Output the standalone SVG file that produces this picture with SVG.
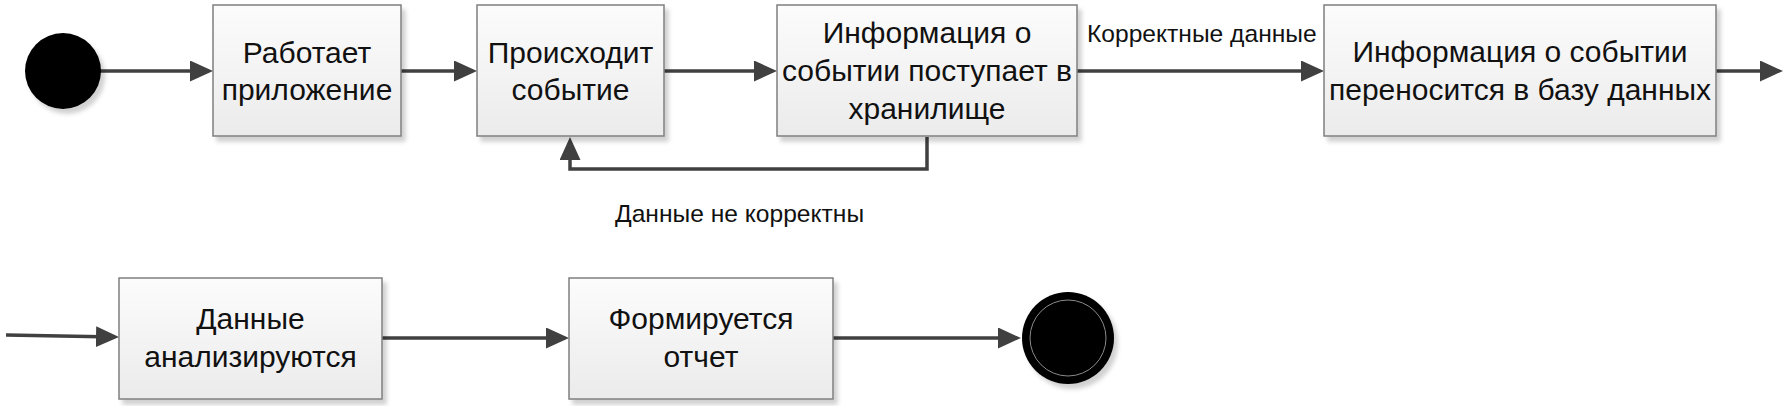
<svg xmlns="http://www.w3.org/2000/svg" width="1789" height="406" viewBox="0 0 1789 406">
<style>
.box{fill:url(#boxGrad);stroke:#7f7f7f;stroke-width:1.5;filter:url(#shadow)}
.t{font-family:"Liberation Sans",Arial,sans-serif;font-size:30px;fill:#111;text-anchor:middle}
.lbl{font-family:"Liberation Sans",Arial,sans-serif;font-size:24.6px;fill:#111}
.conn{fill:none;stroke:#404040;stroke-width:3.5;marker-end:url(#arr)}
</style>
<defs>
<linearGradient id="boxGrad" x1="0" y1="0" x2="0" y2="1">
<stop offset="0" stop-color="#fcfcfc"/>
<stop offset="1" stop-color="#ebebeb"/>
</linearGradient>
<filter id="shadow" x="-10%" y="-10%" width="130%" height="130%">
<feDropShadow dx="4" dy="5" stdDeviation="2" flood-color="#000" flood-opacity="0.18"/>
</filter>
<marker id="arr" viewBox="0 0 23 21" refX="19" refY="10.5" markerWidth="23" markerHeight="21" markerUnits="userSpaceOnUse" orient="auto">
<path d="M0,0 L23,10.5 L0,21 z" fill="#404040"/>
</marker>
</defs>
<rect width="1789" height="406" fill="#fff"/>

<g id="connectors">
<path class="conn" d="M100,71 H209"/>
<path class="conn" d="M401,71 H473"/>
<path class="conn" d="M664,71 H773"/>
<path class="conn" d="M1077,71 H1320"/>
<path class="conn" d="M1716,71 H1779"/>
<path class="conn" d="M927,137 V169 H570 V141"/>
<path class="conn" d="M6,335 L115,337"/>
<path class="conn" d="M382,338 H565"/>
<path class="conn" d="M833,338 H1017"/>
<text class="lbl" x="1087" y="42">Корректные данные</text>
<text class="lbl" x="615" y="222">Данные не корректны</text>
</g>

<g id="start">
<circle cx="63" cy="71" r="38" fill="#000" filter="url(#shadow)"/>
</g>

<g id="n1">
<rect class="box" x="213" y="5" width="188" height="131"/>
<text class="t" x="307" y="63">Работает</text>
<text class="t" x="307" y="100">приложение</text>
</g>

<g id="n2">
<rect class="box" x="477" y="5" width="187" height="131"/>
<text class="t" x="570.5" y="63">Происходит</text>
<text class="t" x="570.5" y="100">событие</text>
</g>

<g id="n3">
<rect class="box" x="777" y="5" width="300" height="131"/>
<text class="t" x="927" y="43">Информация о</text>
<text class="t" x="927" y="81">событии поступает в</text>
<text class="t" x="927" y="119">хранилище</text>
</g>

<g id="n4">
<rect class="box" x="1324" y="5" width="392" height="131"/>
<text class="t" x="1520" y="62">Информация о событии</text>
<text class="t" x="1520" y="100">переносится в базу данных</text>
</g>

<g id="n5">
<rect class="box" x="119" y="278" width="263" height="121"/>
<text class="t" x="250.5" y="329">Данные</text>
<text class="t" x="250.5" y="367">анализируются</text>
</g>

<g id="n6">
<rect class="box" x="569" y="278" width="264" height="121"/>
<text class="t" x="701" y="329">Формируется</text>
<text class="t" x="701" y="367">отчет</text>
</g>

<g id="end">
<circle cx="1068" cy="338" r="46" fill="#000" filter="url(#shadow)"/>
<circle cx="1068" cy="338" r="38" fill="none" stroke="#8a8a8a" stroke-width="1"/>
</g>
</svg>
